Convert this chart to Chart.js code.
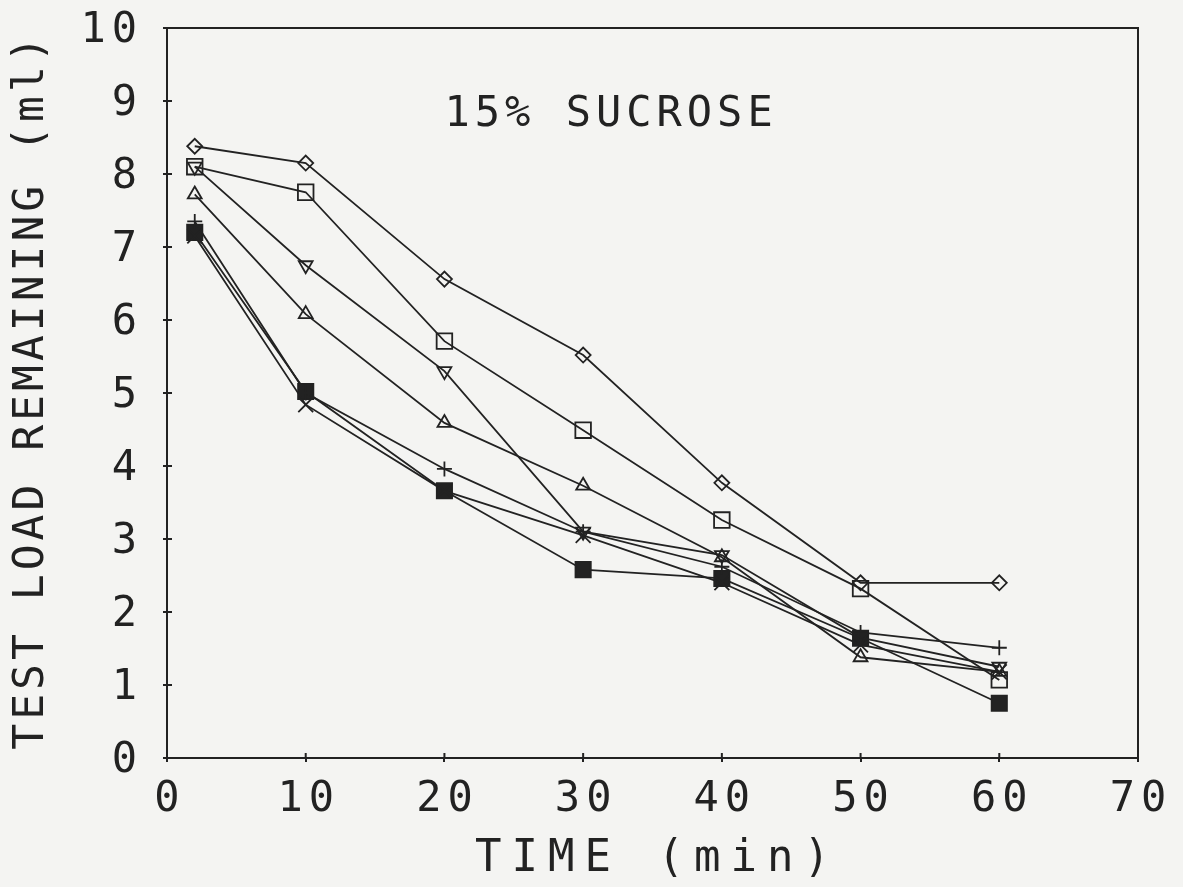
<!DOCTYPE html>
<html>
<head>
<meta charset="utf-8">
<script src="https://cdn.jsdelivr.net/npm/chart.js@4"></script>
<style>
  html, body { margin: 0; padding: 0; background: #f4f4f2; }
  canvas { display: block; }
</style>
</head>
<body>
<canvas id="myChart" width="1183" height="887"></canvas>
<script>
const times = [2, 10, 20, 30, 40, 50, 60];
const diamond = [8.38, 8.15, 6.56, 5.52, 3.77, 2.40, 2.40];
const square = [8.10, 7.75, 5.71, 4.49, 3.26, 2.32, 1.07];
const triDown = [8.10, 6.75, 5.30, 3.10, 2.78, 1.65, 1.25];
const triUp = [7.72, 6.08, 4.59, 3.73, 2.75, 1.38, 1.18];
const plus = [7.35, 5.00, 3.96, 3.10, 2.62, 1.72, 1.51];
const cross = [7.15, 4.84, 3.66, 3.05, 2.40, 1.55, 1.18];
const filled = [7.20, 5.02, 3.66, 2.58, 2.46, 1.64, 0.75];

const xTicks = [0, 10, 20, 30, 40, 50, 60, 70];
const yTicks = [0, 1, 2, 3, 4, 5, 6, 7, 8, 9, 10];

const chartTitle = '15% SUCROSE';
const xTitle = 'TIME (min)';
const yTitle = 'TEST LOAD REMAINING (ml)';

const ink = '#222222';
const fontName = '"DejaVu Sans Mono", monospace';

function pts(vals) {
    return times.map((t, i) => ({x: t, y: vals[i]}));
}

function series(label, vals, style, radius, extra) {
    return Object.assign({
        label: label,
        data: pts(vals),
        borderColor: ink,
        borderWidth: 1.8,
        backgroundColor: 'rgba(0,0,0,0)',
        pointStyle: style,
        pointRadius: radius,
        pointBorderWidth: 1.8,
        pointBorderColor: ink,
        pointBackgroundColor: 'rgba(0,0,0,0)',
        fill: false,
        tension: 0
    }, extra || {});
}

const framePlugin = {
    id: 'frame',
    beforeDraw(chart) {
        chart.ctx.letterSpacing = '6px';
    },
    afterDraw(chart) {
        const {ctx, chartArea: a, scales: {x, y}} = chart;
        ctx.save();
        ctx.strokeStyle = ink;
        ctx.lineWidth = 2;
        ctx.beginPath();
        ctx.moveTo(a.left, a.top);
        ctx.lineTo(a.right, a.top);
        ctx.lineTo(a.right, a.bottom);
        // small ticks inside the frame
        xTicks.slice(1, -1).forEach(v => {
            const px = x.getPixelForValue(v);
            ctx.moveTo(px, a.bottom);
            ctx.lineTo(px, a.bottom - 5);
        });
        yTicks.slice(1, -1).forEach(v => {
            const py = y.getPixelForValue(v);
            ctx.moveTo(a.left, py);
            ctx.lineTo(a.left + 5, py);
        });
        ctx.stroke();

        ctx.fillStyle = ink;
        ctx.textAlign = 'center';
        ctx.textBaseline = 'middle';

        ctx.font = '42px ' + fontName;
        ctx.letterSpacing = '5px';
        ctx.fillText(chartTitle, x.getPixelForValue(31.8) + 3, y.getPixelForValue(8.85) + 3);

        ctx.font = '44px ' + fontName;
        ctx.letterSpacing = '10px';
        ctx.fillText(xTitle, (a.left + a.right) / 2 + 5, 860);

        ctx.font = '43px ' + fontName;
        ctx.letterSpacing = '4px';
        ctx.translate(32, (a.top + a.bottom) / 2);
        ctx.rotate(-Math.PI / 2);
        ctx.fillText(yTitle, 2, 0);
        ctx.restore();
    }
};

const ctx = document.getElementById('myChart').getContext('2d');

const myChart = new Chart(ctx, {
    type: 'line',
    data: {
        datasets: [
            series('diamond', diamond, 'rectRot', 7.5),
            series('square', square, 'rect', 11),
            series('triangle down', triDown, 'triangle', 8, {pointRotation: 180}),
            series('triangle up', triUp, 'triangle', 8),
            series('plus', plus, 'cross', 7.5),
            series('cross', cross, 'crossRot', 10.5),
            series('filled square', filled, 'rect', 10.8, {pointBackgroundColor: ink})
        ]
    },
    options: {
        responsive: false,
        devicePixelRatio: 1,
        animation: false,
        layout: {padding: {top: 28, right: 45, bottom: 0, left: 0}},
        plugins: {
            legend: {display: false},
            tooltip: {enabled: false},
            title: {display: false}
        },
        scales: {
            x: {
                type: 'linear',
                min: 0,
                max: 70,
                afterBuildTicks: s => { s.ticks = xTicks.map(v => ({value: v})); },
                ticks: {
                    color: ink,
                    font: {family: fontName, size: 42},
                    padding: 13,
                    labelOffset: 3,
                    maxRotation: 0
                },
                grid: {drawOnChartArea: false, tickLength: 4, color: ink, lineWidth: 2},
                border: {color: ink, width: 2},
                afterFit: s => {
                    s.height = 129;
                    s.paddingLeft = 0;
                    s.paddingRight = 0;
                }
            },
            y: {
                type: 'linear',
                min: 0,
                max: 10,
                afterBuildTicks: s => { s.ticks = yTicks.map(v => ({value: v})); },
                ticks: {
                    color: ink,
                    font: {family: fontName, size: 42},
                    padding: 20,
                    labelOffset: 3
                },
                grid: {drawOnChartArea: false, tickLength: 4, color: ink, lineWidth: 2},
                border: {color: ink, width: 2},
                afterFit: s => {
                    s.width = 167;
                    s.paddingTop = 0;
                    s.paddingBottom = 0;
                }
            }
        }
    },
    plugins: [framePlugin]
});
</script>
</body>
</html>
